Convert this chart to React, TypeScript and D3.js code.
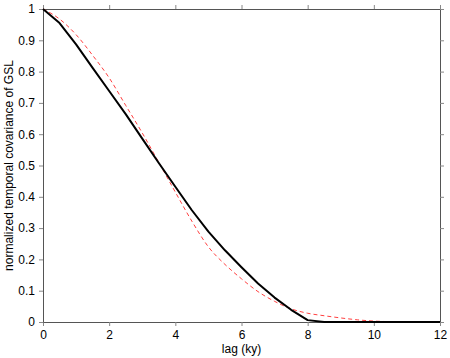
import React, {useRef, useEffect} from 'react';
import * as d3 from 'd3';

// lag in ky (0.5 ky steps)
const lags = [0, 0.5, 1, 1.5, 2, 2.5, 3, 3.5, 4, 4.5, 5, 5.5, 6, 6.5, 7, 7.5, 8, 8.5, 9, 9.5, 10, 10.5, 11, 11.5, 12];
// black solid curve
const covSolid = [1.0, 0.955, 0.887, 0.812, 0.738, 0.664, 0.586, 0.508, 0.432, 0.357, 0.289, 0.229, 0.175, 0.123, 0.078, 0.039, 0.006, 0, 0, 0, 0, 0, 0, 0, 0];
// red dashed curve
const covDashed = [1.0, 0.968, 0.918, 0.852, 0.780, 0.692, 0.604, 0.510, 0.415, 0.322, 0.240, 0.184, 0.138, 0.097, 0.066, 0.042, 0.028, 0.020, 0.013, 0.007, 0.003, 0.001, 0, 0, 0];

const xTicks = [0, 2, 4, 6, 8, 10, 12];
const yTicks = [0, 0.1, 0.2, 0.3, 0.4, 0.5, 0.6, 0.7, 0.8, 0.9, 1];

const W = 450;
const H = 358;
const font = '"Liberation Sans", Arial, Helvetica, sans-serif';

const CovChart = () => {
    const svgRef = useRef<SVGSVGElement>(null);

    useEffect(() => {
        const svg = d3.select(svgRef.current);
        svg.selectAll('*').remove();

        const x = d3.scaleLinear().domain([0, 12]).range([43, 440]);
        const y = d3.scaleLinear().domain([0, 1]).range([322, 9]);

        const fmt = (d: number) => String(+d.toFixed(1));
        const axisColor = '#555';

        const styleAxis = (g: any, labels: boolean) => {
            g.select('.domain').attr('stroke', axisColor);
            g.selectAll('.tick line').attr('stroke', '#888');
            g.selectAll('.tick text')
                .attr('fill', '#000')
                .style('font-family', font)
                .style('font-size', '12px');
            if (!labels) g.selectAll('.tick text').remove();
        };

        // bottom
        svg.append('g')
            .attr('transform', `translate(0, ${y(0)})`)
            .call(d3.axisBottom(x).tickValues(xTicks).tickSize(4).tickSizeOuter(0).tickPadding(4).tickFormat(fmt as any))
            .call((g: any) => styleAxis(g, true));
        // top
        svg.append('g')
            .attr('transform', `translate(0, ${y(1)})`)
            .call(d3.axisTop(x).tickValues(xTicks).tickSize(4).tickSizeOuter(0))
            .call((g: any) => styleAxis(g, false));
        // left
        svg.append('g')
            .attr('transform', `translate(${x(0)}, 0)`)
            .call(d3.axisLeft(y).tickValues(yTicks).tickSize(4).tickSizeOuter(0).tickPadding(4).tickFormat(fmt as any))
            .call((g: any) => styleAxis(g, true));
        // right
        svg.append('g')
            .attr('transform', `translate(${x(12)}, 0)`)
            .call(d3.axisRight(y).tickValues(yTicks).tickSize(4).tickSizeOuter(0))
            .call((g: any) => styleAxis(g, false));

        const solidLine = d3.line<number>()
            .x((_, i) => x(lags[i]))
            .y(d => y(d));

        const dashedLine = d3.line<number>()
            .x((_, i) => x(lags[i]))
            .y(d => y(d))
            .curve(d3.curveMonotoneX);

        svg.append('path')
            .datum(covDashed)
            .attr('fill', 'none')
            .attr('stroke', '#ff4040')
            .attr('stroke-width', 1)
            .attr('stroke-dasharray', '4,3')
            .attr('d', dashedLine);

        svg.append('path')
            .datum(covSolid)
            .attr('fill', 'none')
            .attr('stroke', '#000')
            .attr('stroke-width', 2)
            .attr('stroke-linejoin', 'round')
            .attr('d', solidLine);

        // axis titles
        svg.append('text')
            .attr('x', (x(0) + x(12)) / 2)
            .attr('y', 353)
            .attr('text-anchor', 'middle')
            .style('font-family', font)
            .style('font-size', '12px')
            .text('lag (ky)');

        svg.append('text')
            .attr('transform', `translate(13, ${(y(0) + y(1)) / 2}) rotate(-90)`)
            .attr('text-anchor', 'middle')
            .style('font-family', font)
            .style('font-size', '12px')
            .text('normalized temporal covariance of GSL');
    }, []);

    return (
        <svg ref={svgRef} width={W} height={H}
             style={{position: 'absolute', left: 0, top: 0, background: '#fff'}}/>
    );
};

export default function App() {
    return <CovChart/>;
}
